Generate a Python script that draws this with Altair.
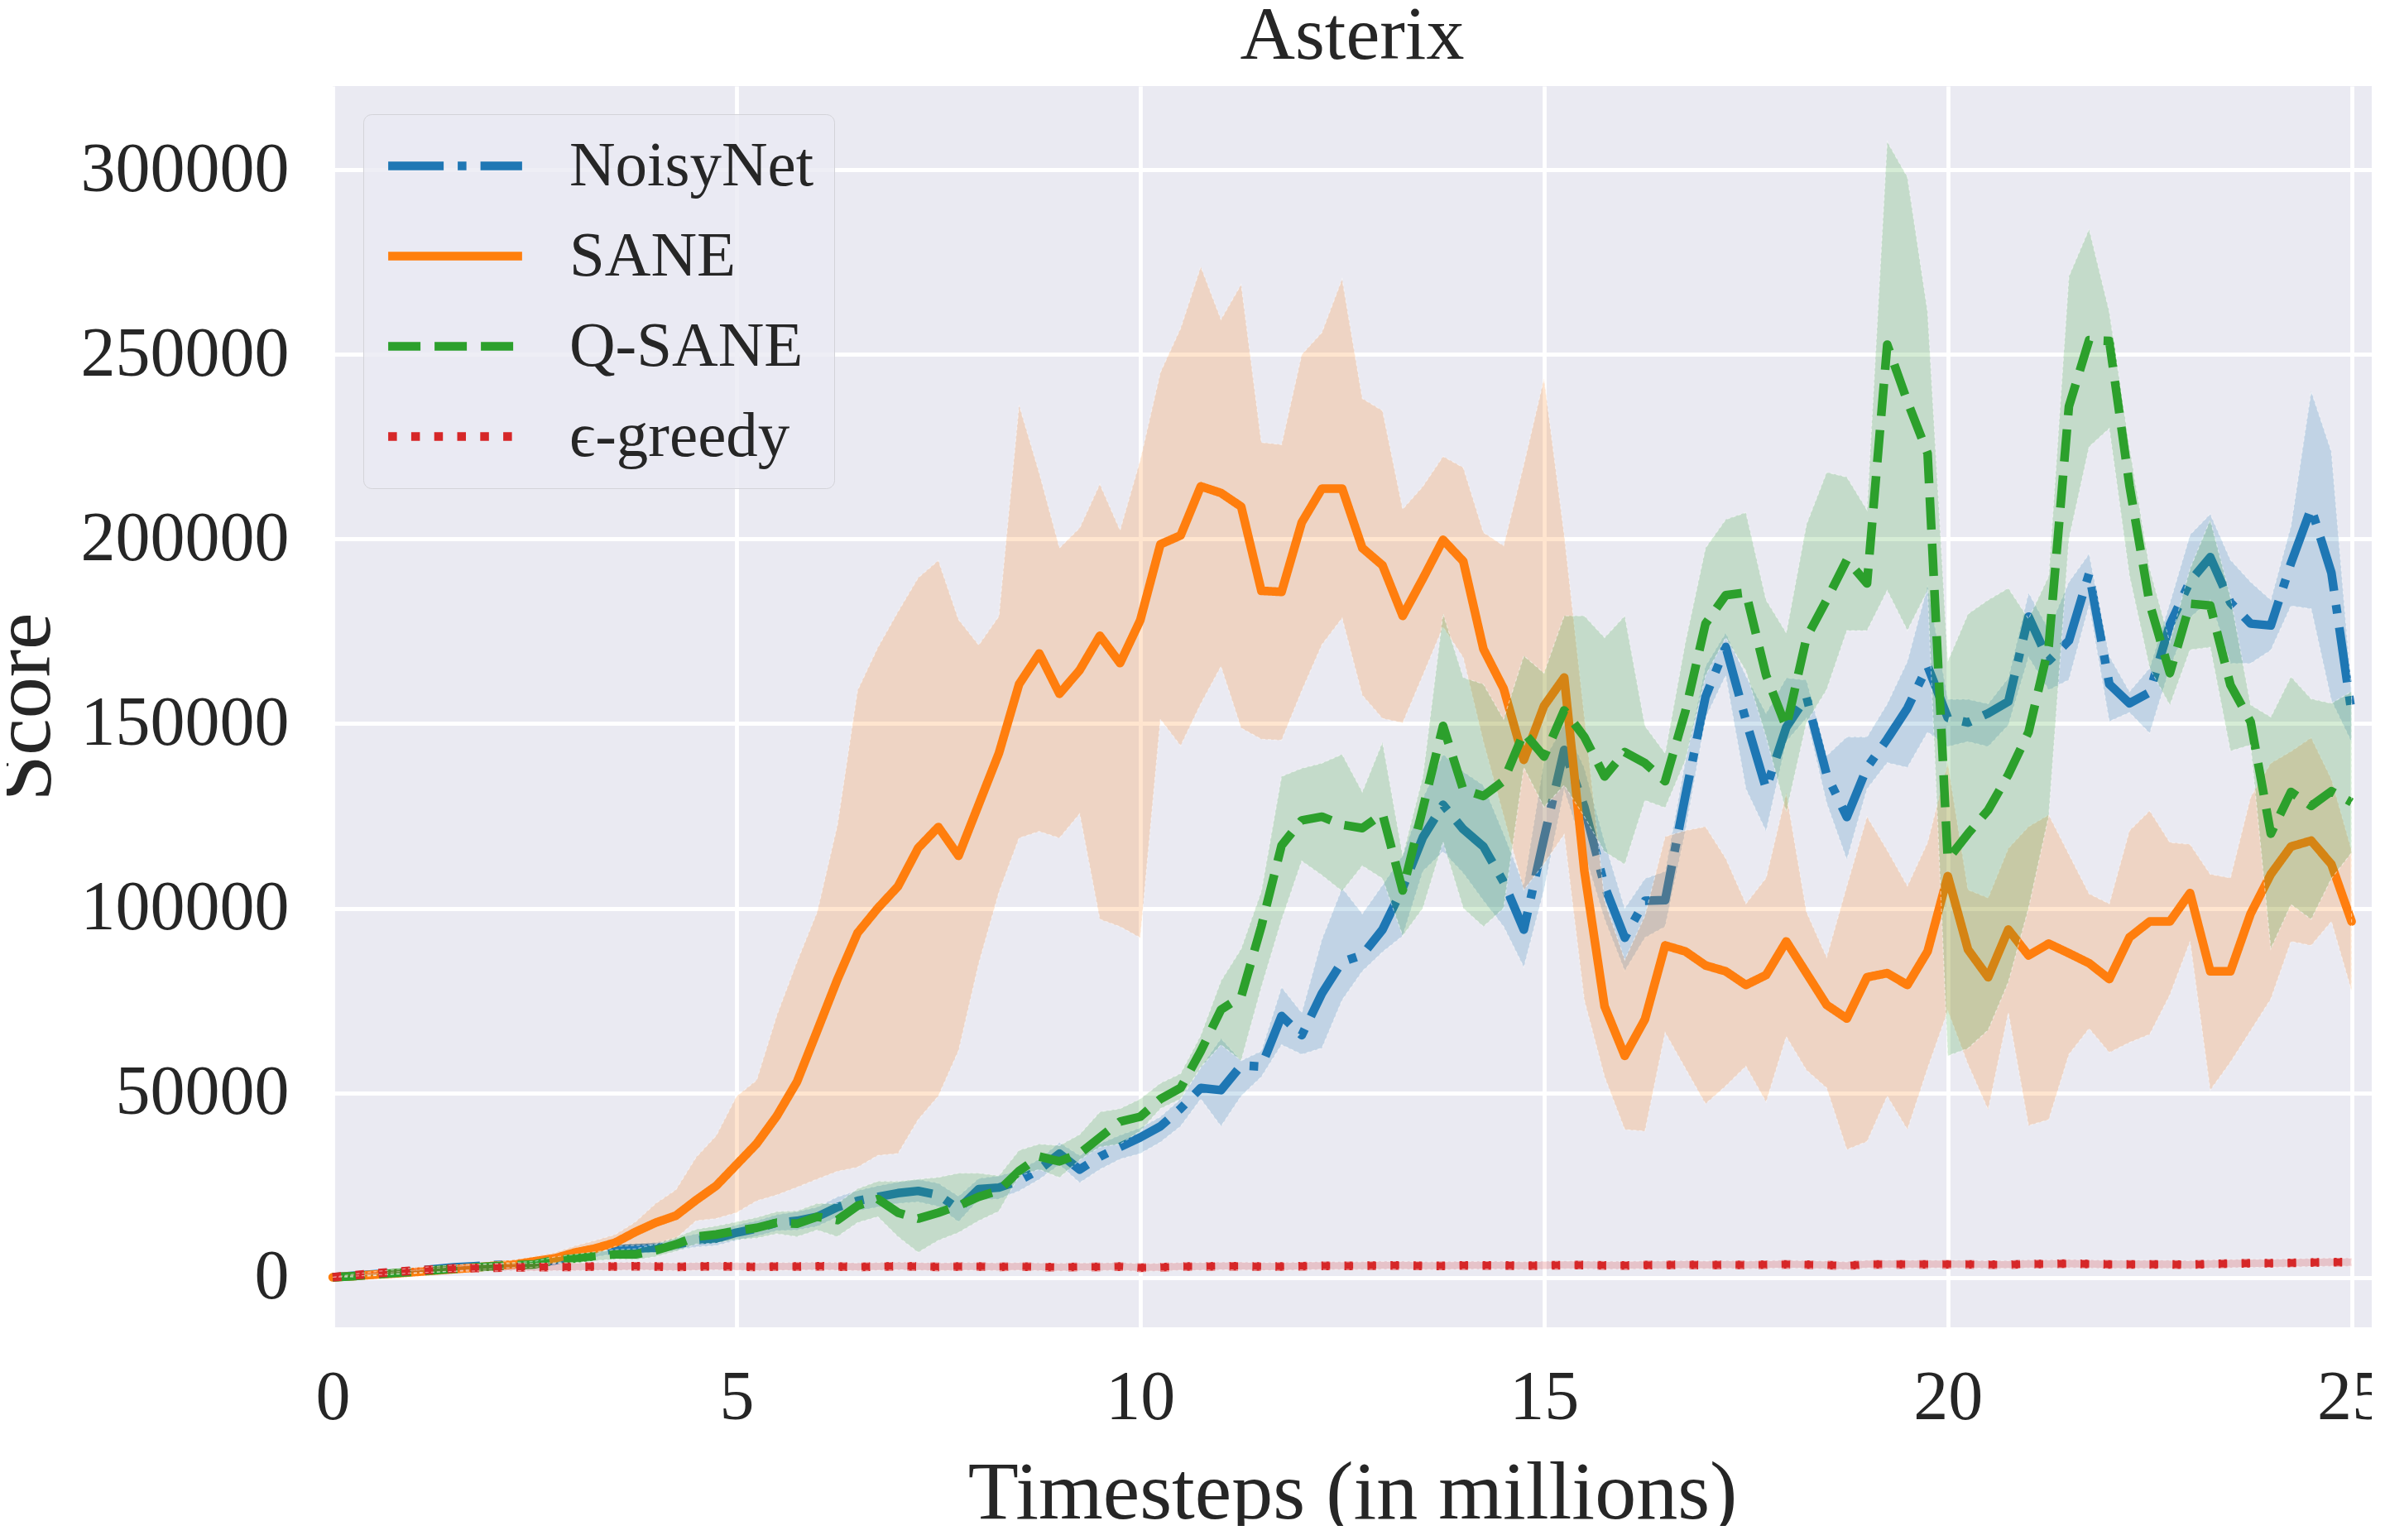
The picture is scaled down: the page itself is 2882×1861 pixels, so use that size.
import altair as alt
import pandas as pd

# ---------------- data ----------------
timesteps = [i * 0.25 for i in range(101)]  # 0 .. 25 million, every 0.25M

series_names = ["NoisyNet", "SANE", "Q-SANE", "ϵ-greedy"]

noisynet_mean = [
    0, 400, 800, 1200, 1700, 2200, 2700, 3000, 3300, 3500,
    3750, 4600, 5700, 6700, 7600, 7800, 8000, 8900, 10000, 10500,
    12100, 13200, 14800, 15300, 16400, 19000, 20700, 21800, 22800, 23400,
    22300, 18500, 23900, 24300, 26200, 29200, 33500, 29200, 32700, 35300,
    37900, 40900, 45700, 51300, 50700, 57400, 57100, 70800, 65600, 76900,
    85500, 87300, 94200, 105500, 119200, 128000, 121400, 116700, 107100, 94200,
    119000, 142900, 127400, 106000, 92000, 102000, 102200, 130400, 157300, 170800,
    150900, 132400, 149000, 157300, 136200, 124700, 138100, 145800, 154200, 165600,
    151600, 150300, 152800, 156000, 179000, 167000, 172500, 190700, 160700, 155500,
    158500, 176800, 188600, 195100, 182800, 177100, 176600, 193500, 208400, 190900,
    153000]
noisynet_hi = [
    0, 600, 1100, 1500, 2100, 2700, 3200, 3600, 3900, 4200,
    4600, 5600, 6800, 7900, 8800, 9200, 9500, 10500, 11800, 12500,
    14200, 15300, 17000, 17800, 19000, 21800, 23500, 24800, 25800, 26500,
    25500, 22000, 26800, 27500, 29000, 32000, 36500, 33000, 36200, 38500,
    40500, 43500, 48300, 56900, 64700, 58700, 61300, 78600, 71700, 91600,
    105500, 98500, 106300, 114300, 129800, 141700, 137000, 133300, 120200, 106300,
    140000, 150000, 138000, 118000, 100000, 108000, 110000, 140000, 165600, 174600,
    163000, 152800, 162400, 161800, 141300, 146400, 146400, 155400, 166900, 187400,
    156600, 156600, 155400, 162400, 185500, 175500, 188400, 196000, 168300, 158700,
    165100, 182700, 201200, 206800, 194400, 188400, 183500, 203600, 240100, 223700,
    158700]
noisynet_lo = [
    0, 200, 500, 900, 1300, 1700, 2200, 2400, 2700, 2800,
    2900, 3600, 4600, 5500, 6400, 6500, 6600, 7300, 8200, 8600,
    10000, 11100, 12600, 12800, 13800, 16300, 18000, 19000, 20000, 20400,
    19200, 15000, 21000, 21200, 23400, 26500, 30500, 25600, 29200, 32000,
    33500, 36600, 40900, 48300, 40900, 49100, 54300, 63000, 60400, 62100,
    75100, 82900, 88100, 92500, 110000, 115300, 109500, 102000, 95000, 84000,
    105000, 132000, 115000, 97000, 83000, 92000, 95000, 120800, 151500, 163000,
    132300, 120800, 145100, 151500, 128500, 113100, 132300, 139400, 138100, 147700,
    143800, 145100, 143800, 149600, 168000, 159100, 161900, 182000, 150600, 153000,
    147400, 165100, 178700, 183500, 166300, 166300, 169900, 181900, 181100, 156300,
    145000]

sane_mean = [
    0, 300, 700, 1000, 1400, 1800, 2200, 2600, 3100, 3500,
    4300, 5100, 6700, 7800, 9400, 12300, 14800, 16700, 20900, 24800,
    30500, 36200, 43700, 53000, 66800, 80700, 93300, 100000, 105900, 116300,
    122000, 114200, 128100, 142000, 160700, 169000, 158100, 164500, 173800, 166400,
    178000, 198600, 201000, 214300, 212500, 208800, 186000, 185700, 204500, 213700,
    213700, 197600, 192900, 179200, 189300, 199800, 194000, 170200, 159500, 140200,
    154800, 162500, 110000, 73400, 60000, 69900, 89900, 88300, 84500, 82900,
    79200, 81900, 91000, 82400, 73800, 70100, 81300, 82400, 79200, 88300,
    108700, 88800, 81300, 94200, 87200, 90400, 87800, 85100, 80800, 92100,
    96400, 96400, 104100, 82900, 82900, 98500, 109200, 116700, 118300, 111900,
    96400]
sane_hi = [
    0, 400, 900, 1300, 1800, 2300, 2900, 3400, 4000, 4700,
    5700, 6700, 8500, 10000, 11600, 15000, 20000, 23700, 32500, 38400,
    49000, 53400, 71000, 85500, 99000, 122500, 159000, 170600, 180300, 189500,
    194200, 178200, 171300, 179100, 236300, 217900, 197600, 203000, 214900, 202400,
    221400, 245200, 257100, 273800, 259500, 269000, 226200, 225600, 250000, 256000,
    270500, 238100, 234800, 208100, 214300, 222400, 219400, 201800, 198200, 220200,
    243500, 201200, 151800, 102000, 86000, 98000, 119400, 121000, 122100, 113500,
    101200, 108200, 131200, 99000, 86700, 106000, 124800, 115700, 106000, 117800,
    139300, 105000, 102800, 116200, 122100, 125300, 114600, 103900, 101200, 121000,
    126400, 117800, 117300, 109200, 108200, 130100, 139300, 142500, 146200, 135000,
    115700]
sane_lo = [
    0, 200, 500, 800, 1100, 1400, 1700, 2000, 2400, 2700,
    3200, 3800, 5000, 6200, 8400, 8600, 8900, 10500, 15300, 15900,
    17500, 20700, 22300, 24400, 26600, 28700, 29800, 33000, 33500, 42700,
    49100, 61400, 85000, 104300, 119000, 120800, 119000, 125600, 97000, 95000,
    92000, 151200, 144000, 155400, 165500, 148800, 145800, 145500, 158900, 171400,
    178600, 157700, 151400, 150200, 163100, 176200, 167900, 145000, 125000, 105000,
    112000, 120000, 75000, 54300, 40000, 39600, 66300, 56600, 47000, 51800,
    57200, 47500, 65200, 56100, 51300, 34600, 36800, 49100, 40000, 56600,
    72200, 57700, 45400, 71700, 41100, 42700, 60400, 67400, 60900, 63600,
    65800, 76500, 91000, 50700, 58300, 66800, 75400, 91000, 89900, 96400,
    77600]

qsane_mean = [
    0, 300, 700, 1100, 1500, 1900, 2300, 2700, 3000, 3300,
    3500, 4600, 5100, 5700, 6200, 6200, 7300, 8900, 11000, 11600,
    12600, 13400, 14800, 14500, 16400, 15500, 19400, 21200, 17500, 15900,
    17500, 19400, 21800, 23500, 28800, 32700, 31400, 33500, 37900, 42200,
    43500, 48300, 51300, 61300, 72500, 76000, 95100, 117000, 123800, 124800,
    122600, 121700, 125600, 104800, 127000, 149400, 132100, 130400, 134500, 147600,
    141100, 153600, 146400, 135700, 142300, 139300, 134400, 153300, 177100, 184800,
    185500, 163100, 149000, 173300, 183500, 194400, 188000, 252700, 237300, 223200,
    113200, 120200, 126600, 136200, 147700, 171000, 236000, 253900, 253700, 214500,
    182500, 163700, 182500, 182000, 160500, 150500, 120200, 131500, 127700, 131700,
    128700]
qsane_hi = [
    0, 500, 1000, 1400, 1900, 2400, 2900, 3300, 3700, 4000,
    4300, 5500, 6200, 6900, 7500, 7700, 9000, 10800, 13000, 13900,
    15000, 16200, 17800, 18000, 20000, 20000, 24000, 26000, 26000, 26600,
    27100, 28200, 28200, 27500, 34400, 36100, 35700, 38700, 44800, 45700,
    48300, 52600, 55200, 65600, 80300, 89000, 104600, 135700, 137900, 139300,
    141700, 131500, 145000, 114300, 135700, 179800, 162500, 160700, 151200, 168400,
    163700, 179200, 179200, 173300, 179200, 149400, 142000, 172000, 197600, 205300,
    207200, 183500, 174600, 204000, 218100, 216800, 207900, 307700, 298100, 261600,
    166900, 179700, 183500, 186700, 178400, 190000, 271200, 284000, 261600, 225000,
    192000, 172000, 192000, 205200, 184300, 155100, 151800, 162700, 156700, 155500,
    158700]
qsane_lo = [
    0, 100, 400, 800, 1100, 1400, 1700, 2100, 2300, 2600,
    2700, 3700, 4000, 4500, 4900, 4700, 5600, 7000, 9000, 9300,
    10200, 10600, 11800, 11000, 12800, 11000, 14800, 16400, 11000, 6750,
    10000, 12100, 15300, 17900, 27500, 29200, 27000, 31800, 35300, 36100,
    39600, 45700, 48300, 56900, 63000, 58700, 78600, 96800, 112800, 108900,
    104600, 111500, 108000, 92500, 100000, 117900, 100000, 95000, 100000, 138100,
    127400, 133300, 124800, 115300, 111900, 129200, 127200, 140000, 163000, 173300,
    164300, 146400, 126000, 150300, 159200, 175200, 175200, 186100, 175200, 186100,
    60000, 62000, 67000, 80000, 100000, 125000, 200000, 225000, 230000, 190000,
    165000, 155000, 170000, 170700, 142600, 144200, 89000, 101000, 97000, 108000,
    115000]

egreedy_mean = [
    0, 500, 1000, 1400, 1800, 2100, 2400, 2500, 2600, 2700,
    2700, 2800, 2800, 2900, 2900, 3000, 2900, 2800, 2900, 3000,
    2900, 2800, 2900, 2900, 3000, 2900, 2800, 2900, 3000, 2900,
    2800, 2900, 2900, 2800, 2900, 2800, 2700, 2800, 2800, 2900,
    2600, 2700, 2900, 2900, 3000, 3000, 2900, 2900, 3000, 3100,
    3100, 3100, 3200, 3200, 3100, 3100, 3200, 3200, 3200, 3100,
    3200, 3300, 3300, 3200, 3200, 3300, 3300, 3400, 3300, 3400,
    3300, 3400, 3500, 3400, 3300, 3100, 3500, 3500, 3500, 3500,
    3500, 3500, 3400, 3400, 3600, 3600, 3700, 3600, 3500, 3500,
    3500, 3500, 3400, 3600, 3700, 3800, 3800, 3900, 4000, 4100,
    4100]
egreedy_hi = [
    0, 800, 1500, 2000, 2500, 2900, 3300, 3500, 3600, 3700,
    3800, 3900, 3900, 4000, 4000, 4100, 4000, 3900, 4000, 4100,
    4000, 3900, 4000, 4000, 4100, 4000, 3900, 4000, 4100, 4000,
    3900, 4000, 4000, 3900, 4000, 3900, 3800, 3900, 3900, 4000,
    3700, 3800, 4000, 4000, 4100, 4100, 4000, 4000, 4100, 4200,
    4200, 4200, 4300, 4300, 4200, 4200, 4300, 4300, 4300, 4200,
    4300, 4400, 4400, 4300, 4300, 4400, 4400, 4500, 4400, 4500,
    4400, 4500, 4600, 4500, 4400, 4200, 4600, 4600, 4600, 4600,
    4600, 4600, 4500, 4500, 4700, 4700, 4800, 4700, 4600, 4600,
    4600, 4600, 4500, 4700, 4800, 4900, 4900, 5000, 5100, 5200,
    5200]
egreedy_lo = [
    0, 300, 600, 900, 1200, 1400, 1600, 1700, 1700, 1800,
    1700, 1800, 1800, 1900, 1900, 2000, 1900, 1800, 1900, 2000,
    1900, 1800, 1900, 1900, 2000, 1900, 1800, 1900, 2000, 1900,
    1800, 1900, 1900, 1800, 1900, 1800, 1700, 1800, 1800, 1900,
    1600, 1700, 1900, 1900, 2000, 2000, 1900, 1900, 2000, 2100,
    2100, 2100, 2200, 2200, 2100, 2100, 2200, 2200, 2200, 2100,
    2200, 2300, 2300, 2200, 2200, 2300, 2300, 2400, 2300, 2400,
    2300, 2400, 2500, 2400, 2300, 2100, 2500, 2500, 2500, 2500,
    2500, 2500, 2400, 2400, 2500, 2500, 2600, 2500, 2400, 2400,
    2400, 2400, 2300, 2500, 2600, 2700, 2700, 2800, 2900, 3000,
    3000]

x_tick_values = [0, 5, 10, 15, 20, 25]
y_tick_values = [0, 50000, 100000, 150000, 200000, 250000, 300000]

# ---------------- table ----------------
series_data = {
    "NoisyNet": (noisynet_mean, noisynet_lo, noisynet_hi),
    "SANE": (sane_mean, sane_lo, sane_hi),
    "Q-SANE": (qsane_mean, qsane_lo, qsane_hi),
    "ϵ-greedy": (egreedy_mean, egreedy_lo, egreedy_hi),
}
rows = []
for k, name in enumerate(series_names):
    m, lo, hi = series_data[name]
    for t, a, b, c in zip(timesteps, m, lo, hi):
        rows.append({"t": t, "series": name, "k": k, "mean": a, "lo": b, "hi": c})
df = pd.DataFrame(rows)

# ---------------- styling ----------------
FONT = "Liberation Serif"
TXT = "#262626"
colors = ["#1f77b4", "#ff7f0e", "#2ca02c", "#d62728"]
LW = 10.5
dashes = [[67, 17, 10.5, 17], [1, 0], [39, 17], [10.5, 17.3]]

xscale = alt.Scale(domain=[0, 25.25], nice=False, zero=False)
yscale = alt.Scale(domain=[-13560, 322750], nice=False, zero=False)

xaxis = alt.Axis(values=x_tick_values, format="d", title="Timesteps (in millions)",
                 labelPadding=44, titlePadding=24, labelFlush=False)
yaxis = alt.Axis(values=y_tick_values, format="d", title="Score",
                 labelPadding=53, labelLimit=0, titleX=-322, titleY=750,
                 titleAngle=270, titleBaseline="bottom", titleAlign="center")

stroke_scale = alt.Scale(domain=series_names, range=colors)
dash_scale = alt.Scale(domain=series_names, range=dashes)

# long horizontal stroke symbol (about 160 px) with a compact row height
legend = alt.Legend(
    title=None, orient="none", legendX=37, legendY=34,
    symbolType="M-1.561,0H6.236", symbolSize=1722, symbolStrokeWidth=LW,
    labelFontSize=77, labelFont=FONT, labelColor=TXT, labelOffset=148,
    labelLimit=0, rowPadding=31, padding=24, cornerRadius=10,
    fillColor="rgba(234,234,242,0.8)", strokeColor="#D3D3D8",
)

X = alt.X("t:Q", scale=xscale, axis=xaxis)

layers = []
for name, col in zip(series_names, colors):
    cap = "round" if name == "SANE" else "butt"
    base = alt.Chart(df).transform_filter(alt.datum.series == name)
    line = base.mark_line(
        strokeWidth=LW, strokeCap=cap, strokeJoin="round"
    ).encode(
        x=X,
        y=alt.Y("mean:Q", scale=yscale, axis=yaxis),
        stroke=alt.Stroke("series:N", scale=stroke_scale, legend=legend),
        strokeDash=alt.StrokeDash("series:N", scale=dash_scale, legend=legend),
    )
    band = base.mark_area(
        fill=col, fillOpacity=0.2, stroke="white", strokeWidth=1.2,
        strokeOpacity=0.5, strokeDash=[4, 3]
    ).encode(
        x=X,
        y=alt.Y("lo:Q", scale=yscale, axis=yaxis),
        y2="hi:Q",
    )
    layers.extend([line, band])

chart = alt.layer(*layers).properties(
    width=2464, height=1500,
    padding={"left": 394, "top": 96, "right": 0, "bottom": 240},
    autosize=alt.AutoSizeParams(type="none"),
    title=alt.TitleParams("Asterix", fontSize=92, font=FONT, fontWeight="normal",
                          color=TXT, offset=14, anchor="middle"),
).configure_view(
    fill="#EAEAF2", strokeWidth=0
).configure_axis(
    labelFont=FONT, titleFont=FONT, labelFontSize=84, titleFontSize=100,
    labelColor=TXT, titleColor=TXT, titleFontWeight="normal",
    grid=True, gridColor="white", gridWidth=4.8, ticks=False, domain=False,
    tickSize=0,
)

chart.save("out.html", embed_options={"renderer": "svg", "actions": False})
